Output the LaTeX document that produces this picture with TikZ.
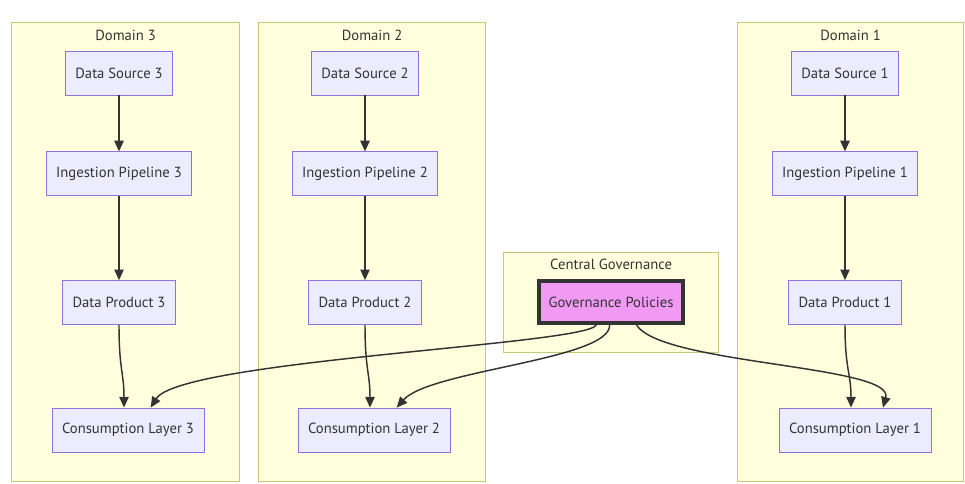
\documentclass[tikz,border=0pt]{standalone}
\usepackage{fontspec}
\setmainfont{PT Sans}
\usepackage{xcolor}
\usetikzlibrary{positioning, arrows.meta, calc}

\definecolor{domfill}{HTML}{FFFFDE}
\definecolor{domline}{HTML}{C8C87A}
\definecolor{stepfill}{HTML}{ECECFF}
\definecolor{stepline}{HTML}{9370DB}
\definecolor{govfill}{HTML}{F09AF4}
\definecolor{ink}{HTML}{333333}

\begin{document}
\begin{tikzpicture}[
  x=0.75pt, y=-0.75pt,
  every node/.style={font=\fontsize{11}{13}\selectfont, text=ink},
  domain/.style={
    draw=domline, fill=domfill, line width=0.9pt,
    minimum width=#1*0.75pt, minimum height=459*0.75pt, inner sep=0pt
  },
  stage/.style={
    draw=stepline, fill=stepfill, line width=0.6pt,
    minimum height=33pt, inner xsep=7.5pt
  },
  arr/.style={
    draw=ink, line width=1.1pt,
    -{Triangle[length=8pt, width=7pt]}
  },
]

\useasboundingbox[fill=white] (0,0) rectangle (965,484);

% Domain frames
\node[domain=228, anchor=north west] (d3) at (11,22) {};
\node[domain=227, anchor=north west] (d2) at (258,22) {};
\node[domain=226, anchor=north west] (d1) at (737,22) {};
\node[domain=215, minimum height=100*0.75pt, anchor=north west] (cg) at (503,252) {};

\node[below=2.5pt of d3.north] (t3) {Domain 3};
\node[below=2.5pt of d2.north] (t2) {Domain 2};
\node[below=2.5pt of d1.north] (t1) {Domain 1};
\node[below=2pt of cg.north] (tg) {Central Governance};

% Domain 3
\node[stage] (ds3) at (119,73) {Data Source 3};
\node[stage, below=42pt of ds3] (ip3) {Ingestion Pipeline 3};
\node[stage, below=63pt of ip3] (dp3) {Data Product 3};
\node[stage] (cl3) at (128,430) {Consumption Layer 3};

% Domain 2
\node[stage] (ds2) at (365,73) {Data Source 2};
\node[stage, below=42pt of ds2] (ip2) {Ingestion Pipeline 2};
\node[stage, below=63pt of ip2] (dp2) {Data Product 2};
\node[stage] (cl2) at (374,430) {Consumption Layer 2};

% Domain 1
\node[stage] (ds1) at (845,73) {Data Source 1};
\node[stage, below=42pt of ds1] (ip1) {Ingestion Pipeline 1};
\node[stage, below=63pt of ip1] (dp1) {Data Product 1};
\node[stage] (cl1) at (855,430) {Consumption Layer 1};

% Governance
\node[stage, draw=ink, fill=govfill, line width=3pt, minimum height=31pt] (gp) at (611,302) {Governance Policies};

% Pipelines
\foreach \n in {1,2,3} {
  \draw[arr] (ds\n) -- (ip\n);
  \draw[arr] (ip\n) -- (dp\n);
  \draw[arr] (dp\n.south) .. controls +(0,45) and +(0,-35) .. ([xshift=-3pt]cl\n.north);
}

% Policies
\draw[arr] ([xshift=-11pt]gp.south) .. controls +(-5,20) and (180,360) .. ([xshift=17pt]cl3.north);
\draw[arr] ([xshift=-1pt]gp.south) .. controls +(2,35) and (430,370) .. ([xshift=17pt]cl2.north);
\draw[arr] ([xshift=19pt]gp.south) .. controls +(24,40) and (895,365) .. ([xshift=21pt]cl1.north);

\end{tikzpicture}
\end{document}
